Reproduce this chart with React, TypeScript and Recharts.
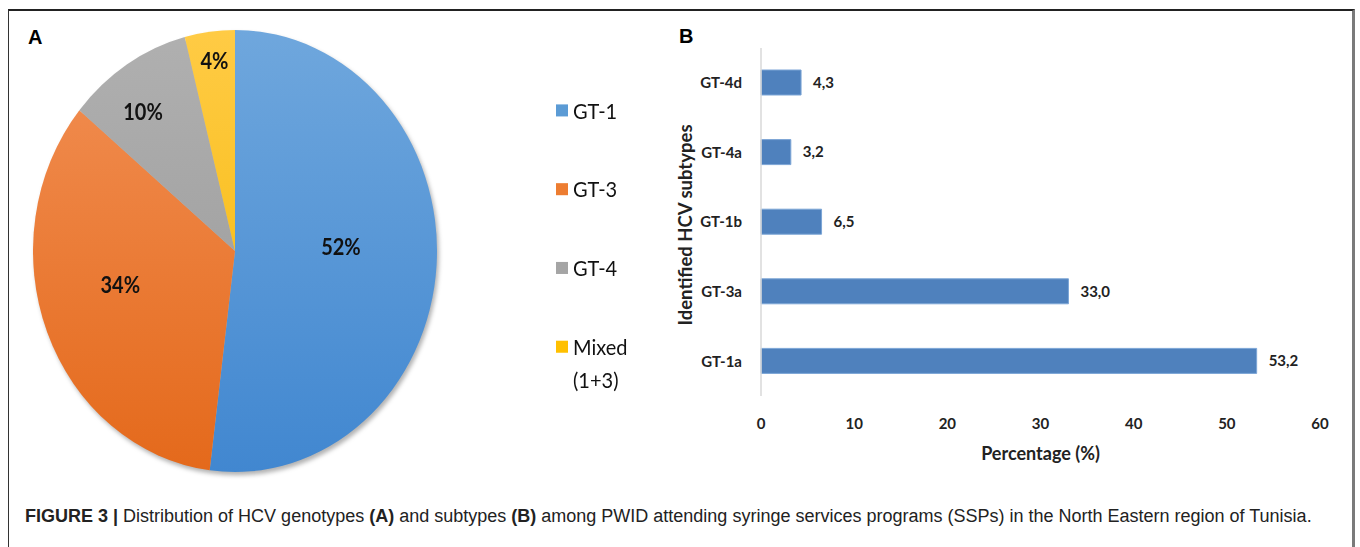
import React from 'react';
import { PieChart, Pie, Cell, Legend, BarChart, Bar, XAxis, YAxis, LabelList } from 'recharts';

// Panel A: genotype shares (%)
const genotypes = ['GT-1', 'GT-3', 'GT-4', 'Mixed (1+3)'];
const genotypeShares = [52, 34, 10, 4];

// Panel B: subtypes, top to bottom as drawn
const subtypes = ['GT-4d', 'GT-4a', 'GT-1b', 'GT-3a', 'GT-1a'];
const subtypeValues = [4.3, 3.2, 6.5, 33.0, 53.2];
const percentTicks = [0, 10, 20, 30, 40, 50, 60];

const pieData = genotypes.map((name, i) => ({ name, value: genotypeShares[i] }));
const barData = subtypes.map((name, i) => ({ name, value: subtypeValues[i] }));

const legendColors = ['#5b9bd5', '#ed7d31', '#a5a5a5', '#ffc000'];
const gradStops = [
  ['#6fa7dd', '#4187d0'],
  ['#f29055', '#e4691b'],
  ['#b0b0b0', '#979797'],
  ['#ffcb45', '#f3b600'],
];
// label placement inside each slice: radius fraction + angle nudge
const labelPlace = [
  { r: 0.525, shift: 6 },
  { r: 0.587, shift: -7 },
  { r: 0.78, shift: 3.3 },
  { r: 0.87, shift: -0.5 },
];

const CX = 235;
const CY = 251;
const R = 202;
const SQUASH = 1.094; // the source image is stretched vertically

const font = 'Lato, "Open Sans", sans-serif';
const RAD = Math.PI / 180;

const renderPieLabel = (props: any) => {
  const { cx, cy, midAngle, outerRadius, index, value } = props;
  const p = labelPlace[index];
  const a = (midAngle + p.shift) * RAD;
  const r = outerRadius * p.r;
  return (
    <text
      x={cx + r * Math.cos(a)}
      y={cy - r * Math.sin(a)}
      textAnchor="middle"
      dominantBaseline="central"
      fontFamily={font}
      fontWeight={700}
      fontSize={20}
      fill="#111"
    >
      {value}%
    </text>
  );
};

const renderLegend = () => (
  <div style={{ fontFamily: font, fontSize: 20, color: '#111' }}>
    {genotypes.map((g, i) => (
      <div key={g} style={{ display: 'flex', alignItems: 'flex-start', marginBottom: 42 }}>
        <span
          style={{
            display: 'inline-block',
            width: 12,
            height: 11,
            background: legendColors[i],
            marginTop: 10,
            marginRight: 5,
          }}
        />
        <span style={{ lineHeight: '30px', width: 70 }}>{g}</span>
      </div>
    ))}
  </div>
);

const fmt = (v: number) => v.toFixed(1).replace('.', ',');

export default function App() {
  return (
    <div
      style={{
        position: 'absolute',
        left: 0,
        top: 0,
        width: 1360,
        height: 547,
        overflow: 'hidden',
        background: '#fff',
      }}
    >
      <style>{`.pieA .recharts-pie { filter: drop-shadow(2px 3px 2px rgba(0,0,0,0.3)); }`}</style>
      <div
        style={{
          position: 'absolute',
          left: 8,
          top: 9,
          width: 1347,
          height: 560,
          boxSizing: 'border-box',
          borderTop: '2px solid #222',
          borderLeft: '1.5px solid #333',
          borderRight: '3px solid #7a7a7a',
        }}
      />

      <div
        style={{
          position: 'absolute',
          left: 28,
          top: 26,
          fontFamily: 'Liberation Sans, Arial, sans-serif',
          fontWeight: 700,
          fontSize: 20,
          color: '#000',
        }}
      >
        A
      </div>
      <div
        style={{
          position: 'absolute',
          left: 679,
          top: 25,
          fontFamily: 'Liberation Sans, Arial, sans-serif',
          fontWeight: 700,
          fontSize: 20,
          color: '#000',
        }}
      >
        B
      </div>

      <div
        className="pieA"
        style={{
          position: 'absolute',
          left: 0,
          top: 0,
          transform: `scaleY(${SQUASH})`,
          transformOrigin: `0 ${CY}px`,
        }}
      >
        <PieChart width={680} height={502} margin={{ top: 0, right: 0, bottom: 0, left: 0 }}>
          <defs>
            {gradStops.map((s, i) => (
              <linearGradient
                key={i}
                id={`pg${i}`}
                gradientUnits="userSpaceOnUse"
                x1={0}
                y1={CY - R}
                x2={0}
                y2={CY + R}
              >
                <stop offset="0%" stopColor={s[0]} />
                <stop offset="100%" stopColor={s[1]} />
              </linearGradient>
            ))}
          </defs>
          <Pie
            data={pieData}
            dataKey="value"
            nameKey="name"
            cx={CX}
            cy={CY}
            outerRadius={R}
            startAngle={90}
            endAngle={-270}
            stroke="none"
            labelLine={false}
            label={renderPieLabel}
            isAnimationActive={false}
          >
            {pieData.map((d, i) => (
              <Cell key={d.name} fill={`url(#pg${i})`} />
            ))}
          </Pie>
          <Legend
            content={renderLegend}
            layout="vertical"
            wrapperStyle={{ left: 556, top: 107, width: 120, bottom: 'auto' }}
          />
        </PieChart>
      </div>

      <div style={{ position: 'absolute', left: 660, top: 0 }}>
        <BarChart
          width={700}
          height={480}
          data={barData}
          layout="vertical"
          margin={{ top: 48, right: 40, bottom: 14, left: 0 }}
          barSize={25}
        >
          <XAxis
            type="number"
            domain={[0, 60]}
            ticks={percentTicks}
            axisLine={false}
            tickLine={false}
            tickSize={0}
            tickMargin={22}
            height={70}
            tick={{ fontFamily: font, fontWeight: 700, fontSize: 15, fill: '#222' }}
            label={{
              content: (p: any) => {
                const vb = p.viewBox || {};
                return (
                  <text
                    x={vb.x + vb.width / 2}
                    y={vb.y + 57}
                    textAnchor="middle"
                    dominantBaseline="central"
                    fontFamily={font}
                    fontWeight={700}
                    fontSize={18}
                    fill="#222"
                  >
                    Percentage (%)
                  </text>
                );
              },
            }}
          />
          <YAxis
            type="category"
            dataKey="name"
            width={101}
            axisLine={{ stroke: '#d9d9d9', strokeWidth: 1.5 }}
            tickLine={false}
            tickSize={0}
            tickMargin={19}
            tick={{ fontFamily: font, fontWeight: 700, fontSize: 15, fill: '#222' }}
            label={{
              content: (p: any) => {
                const vb = p.viewBox || {};
                const x = vb.x + 25;
                const y = vb.y + vb.height / 2 + 3;
                return (
                  <text
                    x={x}
                    y={y}
                    transform={`rotate(-90 ${x} ${y})`}
                    textAnchor="middle"
                    dominantBaseline="central"
                    fontFamily={font}
                    fontWeight={700}
                    fontSize={18.5}
                    fill="#222"
                  >
                    Identified HCV subtypes
                  </text>
                );
              },
            }}
          />
          <Bar dataKey="value" fill="#4f81bd" stroke="#7ca5d6" strokeWidth={1} isAnimationActive={false}>
            <LabelList
              dataKey="value"
              position="right"
              offset={12}
              formatter={(v: any) => fmt(Number(v))}
              style={{ fontFamily: font, fontWeight: 700, fontSize: 15, fill: '#222' }}
            />
          </Bar>
        </BarChart>
      </div>

      <div
        style={{
          position: 'absolute',
          left: 25,
          top: 506,
          fontFamily: '"Liberation Sans", Arial, sans-serif',
          fontSize: 18,
          color: '#222',
          whiteSpace: 'nowrap',
        }}
      >
        <b>FIGURE 3 |</b> Distribution of HCV genotypes <b>(A)</b> and subtypes <b>(B)</b> among PWID attending
        syringe services programs (SSPs) in the North Eastern region of Tunisia.
      </div>
    </div>
  );
}
